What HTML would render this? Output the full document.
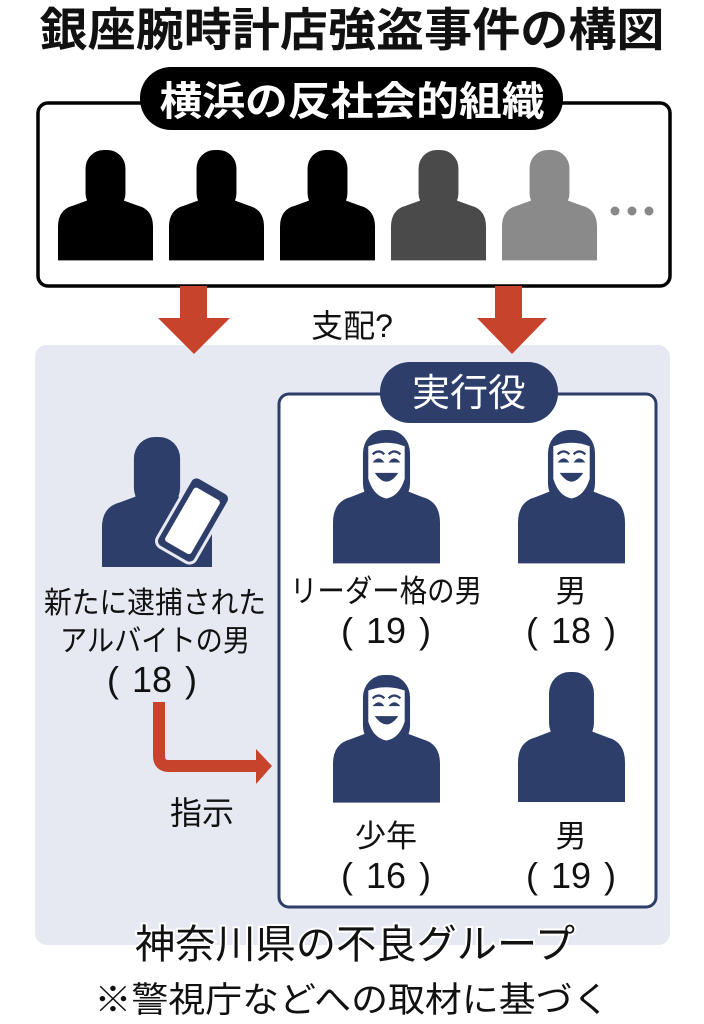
<!DOCTYPE html>
<html><head><meta charset="utf-8"><style>
html,body{margin:0;padding:0;background:#fff;}
svg{display:block;}
text{font-family:"Liberation Sans","Noto Sans CJK JP",sans-serif;}
</style></head><body>
<svg width="704" height="1024" viewBox="0 0 704 1024" xmlns="http://www.w3.org/2000/svg">
<defs>
<g id="p">
<rect x="29" y="0" width="42" height="64" rx="19"/>
<path d="M0,115 L0,80 Q0,62 16,58 L38,50 L62,50 L84,58 Q100,62 100,80 L100,115 Z"/>
</g>
<g id="m">
<rect x="28" y="0" width="44" height="66" rx="20"/>
<path d="M0,115 L0,80 Q0,62 16,58 L38,50 L62,50 L84,58 Q100,62 100,80 L100,115 Z"/>
<path d="M33,14 Q50,8 67,14 L67,42 Q62,57 50,59 Q38,57 33,42 Z" fill="#fff"/>
<path d="M37,28 Q43,21 48,28 Z M52,28 Q57,21 63,28 Z" fill="#2d3e6b"/>
<path d="M37,21 Q43,16 48,21 M52,21 Q57,16 63,21" stroke="#2d3e6b" stroke-width="2" fill="none"/>
<path d="M39,37 Q50,52 61,37 Z" fill="#2d3e6b"/>
</g>
</defs>

<text x="352" y="46" font-size="46" font-weight="bold" text-anchor="middle" fill="#111" textLength="625" lengthAdjust="spacingAndGlyphs">銀座腕時計店強盗事件の構図</text>

<rect x="38" y="103" width="632" height="183" rx="10" fill="#fff" stroke="#000" stroke-width="3.5"/>
<rect x="140" y="67" width="423" height="63" rx="31" fill="#000"/>
<text x="352" y="115" font-size="40" font-weight="bold" text-anchor="middle" fill="#fff" textLength="385" lengthAdjust="spacingAndGlyphs">横浜の反社会的組織</text>

<g fill="#000"><use href="#p" transform="translate(58,150) scale(0.95,0.96)"/></g>
<g fill="#000"><use href="#p" transform="translate(169,150) scale(0.95,0.96)"/></g>
<g fill="#000"><use href="#p" transform="translate(280,150) scale(0.95,0.96)"/></g>
<g fill="#4a4a4a"><use href="#p" transform="translate(391,150) scale(0.95,0.96)"/></g>
<g fill="#8a8a8a"><use href="#p" transform="translate(502,150) scale(0.95,0.96)"/></g>
<g fill="#888"><circle cx="615" cy="211" r="4.5"/><circle cx="632" cy="211" r="4.5"/><circle cx="649" cy="211" r="4.5"/></g>

<rect x="35" y="345" width="635" height="600" rx="12" fill="#e6e8f2"/>

<g fill="#c8432b">
<rect x="180" y="286" width="27" height="34"/><polygon points="158,318 230,318 194,354"/>
<rect x="495" y="286" width="27" height="34"/><polygon points="477,318 547,318 512,354"/>
</g>
<text x="352" y="337" font-size="32" text-anchor="middle" fill="#111">支配?</text>

<rect x="279" y="394" width="377" height="513" rx="10" fill="#fff" stroke="#2d3e6b" stroke-width="3"/>
<rect x="380" y="362" width="178" height="61" rx="30" fill="#2d3e6b"/>
<text x="469" y="406" font-size="38" text-anchor="middle" fill="#fff">実行役</text>

<g fill="#2d3e6b">
<use href="#m" transform="translate(333,430) scale(1.07,1.16)"/>
<use href="#m" transform="translate(518,430) scale(1.07,1.16)"/>
<use href="#m" transform="translate(333,675) scale(1.07,1.11)"/>
<use href="#p" transform="translate(518,672) scale(1.07,1.13)"/>
</g>
<g font-size="31" text-anchor="middle" fill="#111">
<text x="386" y="602" textLength="192" lengthAdjust="spacingAndGlyphs">リーダー格の男</text>
<text x="571" y="602">男</text>
<text x="386" y="847">少年</text>
<text x="571" y="847">男</text>
</g>
<g font-size="36" text-anchor="middle" fill="#111">
<text x="347" y="643">(</text><text x="386" y="643">19</text><text x="425" y="643">)</text>
<text x="532" y="643">(</text><text x="571" y="643">18</text><text x="610" y="643">)</text>
<text x="347" y="888">(</text><text x="386" y="888">16</text><text x="425" y="888">)</text>
<text x="532" y="888">(</text><text x="571" y="888">19</text><text x="610" y="888">)</text>
<text x="113" y="692">(</text><text x="152" y="692">18</text><text x="191" y="692">)</text>
</g>

<g fill="#2d3e6b">
<use href="#p" transform="translate(102,437) scale(1.1,1.13)"/>
<g transform="translate(193,520) rotate(30)">
<rect x="-22" y="-40" width="44" height="80" rx="7" fill="#2d3e6b" stroke="#e6e8f2" stroke-width="3"/>
<rect x="-15" y="-30" width="30" height="62" rx="3" fill="#fff"/>
</g>
</g>
<g font-size="30" text-anchor="middle" fill="#111">
<text x="155" y="613" textLength="222" lengthAdjust="spacingAndGlyphs">新たに逮捕された</text>
<text x="155" y="651" textLength="190" lengthAdjust="spacingAndGlyphs">アルバイトの男</text>
<text x="202" y="824" font-size="32">指示</text>
</g>
<path d="M159,702 L159,756 Q159,766 169,766 L258,766" stroke="#c8432b" stroke-width="12" fill="none"/>
<polygon points="256,749 272,766 256,784" fill="#c8432b"/>

<text x="355" y="958" font-size="40" text-anchor="middle" fill="#111" stroke="#fff" stroke-width="4" paint-order="stroke" textLength="440" lengthAdjust="spacingAndGlyphs">神奈川県の不良グループ</text>
<text x="352" y="1012" font-size="35" text-anchor="middle" fill="#111" textLength="515" lengthAdjust="spacingAndGlyphs">※警視庁などへの取材に基づく</text>
</svg>
</body></html>
